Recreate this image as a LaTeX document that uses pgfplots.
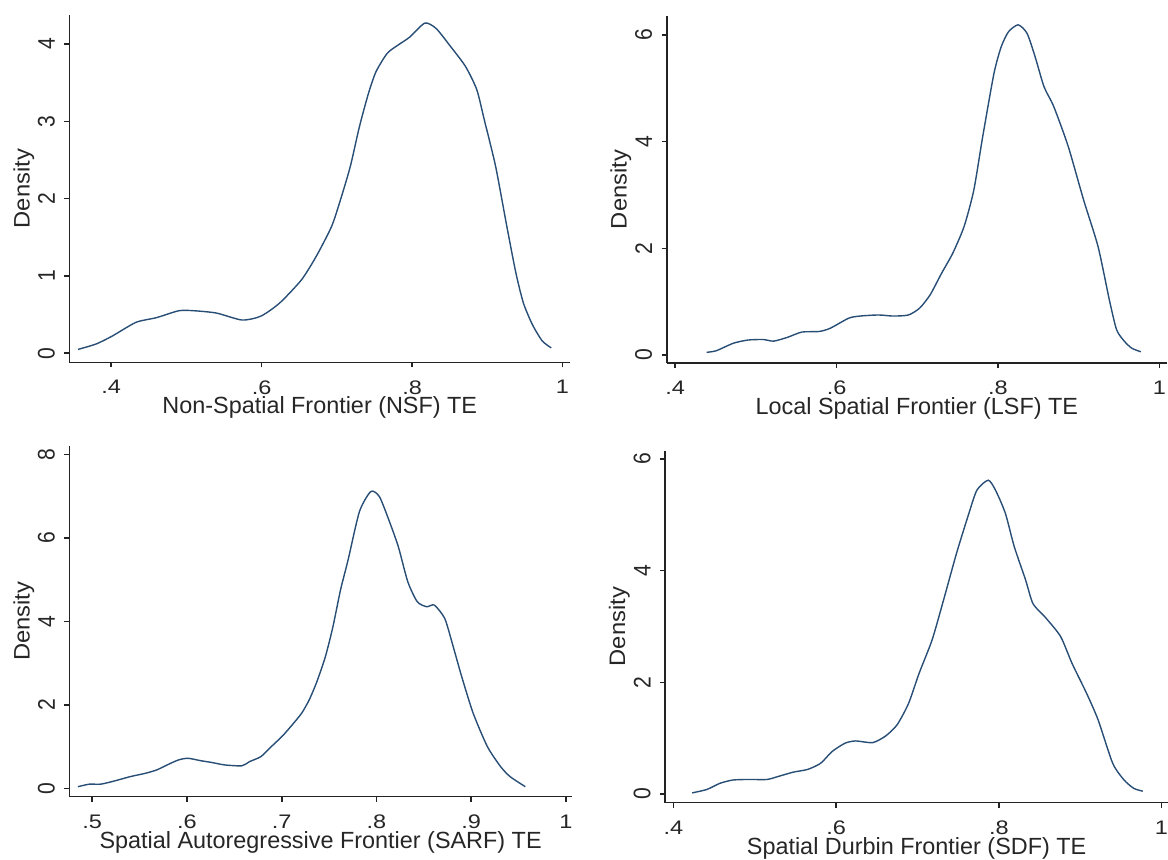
\documentclass[border=0pt]{standalone}
\usepackage{fontspec}
\setmainfont{Liberation Sans}
\newfontfamily\xtickfont[FakeStretch=1.2]{Liberation Sans}
\newfontfamily\ytickfont[FakeStretch=0.88]{Liberation Sans}
\newfontfamily\ylabfont[FakeStretch=1.06]{Liberation Sans}
\usepackage{pgfplots}
\pgfplotsset{compat=1.18}
\definecolor{statanavy}{RGB}{40,78,118}
\definecolor{axisgray}{RGB}{35,35,35}

\pgfplotsset{
  statapanel/.style={
    scale only axis,
    anchor=south west,
    axis x line*=bottom,
    axis y line*=left,
    every outer x axis line/.append style={-},
    every outer y axis line/.append style={-},
    axis line style={-, line width=0.8pt, axisgray},
    tick align=outside,
    major tick length=2.5pt,
    tick style={line width=0.8pt, axisgray},
    minor tick num=0,
    /pgf/number format/assume math mode=true,
    xticklabel style={anchor=north, inner sep=0pt, text=black!85,
      font=\xtickfont\fontsize{9.8}{11}\selectfont},
    xticklabel shift=6.3pt,
    yticklabel style={rotate=90, anchor=south, inner sep=0pt, text=black!85,
      font=\ytickfont\fontsize{12}{13}\selectfont},
    yticklabel shift=4.65pt,
    ylabel={Density},
    every axis y label/.style={at={([xshift=-28.3pt]axis description cs:0,0.5)},
      rotate=90, anchor=north, inner sep=0pt, text=black!85,
      font=\ylabfont\fontsize{11.2}{13}\selectfont},
    every axis x label/.style={at={([yshift=-25.75pt]axis description cs:0.5,0)},
      anchor=base, inner sep=0pt, text=black!85,
      font=\fontsize{11.7}{13}\selectfont},
    clip=false,
  },
  kde/.style={statanavy, line width=0.7pt, smooth, tension=0.4, no markers},
}

\begin{document}
\begin{tikzpicture}
\path[use as bounding box] (0,0) rectangle (584pt,430pt);

% Non-spatial frontier
\begin{axis}[statapanel,
  at={(34.75pt,248.8pt)}, width=250.3pt, height=173.7pt,
  xmin=0.3446, xmax=1.0101, ymin=-0.118, ymax=4.375,
  xtick={0.4,0.6,0.8,1}, xticklabels={.4,.6,.8,1},
  ytick={0,1,2,3,4},
  xlabel={Non-Spatial Frontier (NSF) TE}]
\addplot[kde] coordinates {
(0.356,0.05) (0.380,0.12) (0.401,0.22) (0.433,0.40) (0.460,0.46) (0.490,0.55)
(0.510,0.55) (0.540,0.52) (0.574,0.43) (0.599,0.48) (0.624,0.65) (0.653,0.95)
(0.673,1.26) (0.693,1.64) (0.705,1.99) (0.718,2.42) (0.730,2.93) (0.742,3.36)
(0.752,3.64) (0.767,3.88) (0.782,3.99) (0.797,4.09) (0.817,4.27) (0.832,4.20)
(0.851,3.97) (0.871,3.71) (0.886,3.41) (0.896,3.02) (0.911,2.42) (0.926,1.64)
(0.938,1.04) (0.948,0.65) (0.960,0.37) (0.973,0.16) (0.985,0.07)
};
\end{axis}

% Local spatial frontier
\begin{axis}[statapanel,
  at={(333.35pt,248.5pt)}, width=250.15pt, height=173.5pt,
  xmin=0.3895, xmax=1.0094, ymin=-0.15, ymax=6.356,
  xtick={0.4,0.6,0.8,1}, xticklabels={.4,.6,.8,1},
  ytick={0,2,4,6},
  xlabel={Local Spatial Frontier (LSF) TE}]
\addplot[kde] coordinates {
(0.439,0.05) (0.451,0.08) (0.472,0.22) (0.490,0.28) (0.509,0.29) (0.522,0.26)
(0.539,0.33) (0.557,0.43) (0.578,0.44) (0.592,0.50) (0.615,0.69) (0.629,0.73)
(0.652,0.75) (0.670,0.73) (0.689,0.75) (0.703,0.88) (0.716,1.13) (0.730,1.53)
(0.744,1.91) (0.758,2.41) (0.770,3.09) (0.781,4.09) (0.795,5.28) (0.804,5.78)
(0.813,6.06) (0.825,6.19) (0.836,6.03) (0.846,5.59) (0.857,5.03) (0.869,4.66)
(0.887,3.91) (0.906,2.91) (0.924,2.03) (0.938,1.03) (0.947,0.47) (0.957,0.25)
(0.966,0.125) (0.977,0.06)
};
\end{axis}

% Spatial autoregressive frontier
\begin{axis}[statapanel,
  at={(34.75pt,31.65pt)}, width=251.1pt, height=175.35pt,
  xmin=0.476, xmax=1.006, ymin=-0.2, ymax=8.2,
  xtick={0.5,0.6,0.7,0.8,0.9,1}, xticklabels={.5,.6,.7,.8,.9,1},
  ytick={0,2,4,6,8},
  xlabel={Spatial Autoregressive Frontier (SARF) TE}]
\addplot[kde] coordinates {
(0.485,0.04) (0.497,0.10) (0.509,0.10) (0.524,0.18) (0.540,0.28) (0.556,0.36)
(0.568,0.44) (0.579,0.56) (0.591,0.68) (0.601,0.72) (0.615,0.66) (0.626,0.62)
(0.640,0.56) (0.658,0.54) (0.666,0.64) (0.678,0.76) (0.689,1.00) (0.701,1.26)
(0.711,1.52) (0.721,1.80) (0.729,2.12) (0.737,2.55) (0.746,3.15) (0.754,3.87)
(0.762,4.75) (0.770,5.47) (0.782,6.63) (0.794,7.11) (0.803,6.99) (0.813,6.43)
(0.823,5.79) (0.833,4.95) (0.843,4.47) (0.853,4.35) (0.861,4.39) (0.872,4.07)
(0.880,3.47) (0.890,2.67) (0.902,1.80) (0.917,1.00) (0.931,0.52) (0.941,0.28)
(0.957,0.04)
};
\end{axis}

% Spatial Durbin frontier
\begin{axis}[statapanel,
  at={(332.6pt,28.65pt)}, width=251.4pt, height=176pt,
  xmin=0.3899, xmax=1.008, ymin=-0.156, ymax=6.149,
  xtick={0.4,0.6,0.8,1}, xticklabels={.4,.6,.8,1},
  ytick={0,2,4,6},
  xlabel={Spatial Durbin Frontier (SDF) TE}]
\addplot[kde] coordinates {
(0.423,0.02) (0.441,0.08) (0.457,0.19) (0.473,0.25) (0.492,0.26) (0.515,0.26)
(0.528,0.31) (0.547,0.39) (0.565,0.44) (0.581,0.55) (0.595,0.76) (0.611,0.91)
(0.624,0.95) (0.645,0.92) (0.661,1.04) (0.675,1.24) (0.689,1.62) (0.702,2.16)
(0.718,2.76) (0.732,3.47) (0.748,4.31) (0.762,4.97) (0.773,5.44) (0.787,5.62)
(0.796,5.44) (0.808,5.03) (0.819,4.43) (0.833,3.83) (0.842,3.41) (0.858,3.15)
(0.876,2.82) (0.890,2.34) (0.908,1.80) (0.922,1.33) (0.940,0.55) (0.954,0.25)
(0.966,0.10) (0.977,0.05)
};
\end{axis}
\end{tikzpicture}
\end{document}
